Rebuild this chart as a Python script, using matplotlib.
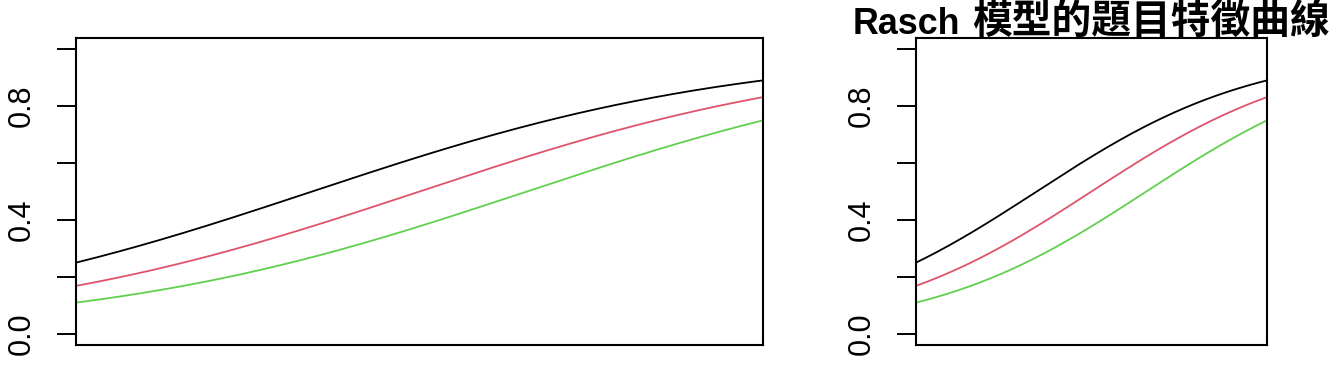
import numpy as np
import matplotlib
matplotlib.use("Agg")
import matplotlib.pyplot as plt

# Rasch item difficulties and ability range
item_difficulty = [-0.5, 0.0, 0.5]
item_colors = ["#000000", "#DF536B", "#61D04F"]
theta_range = [-1.6, 1.6]
ytick_values = [0.0, 0.2, 0.4, 0.6, 0.8, 1.0]
ytick_labels = ["0.0", "", "0.4", "", "0.8", ""]
title_latin = "Rasch"
title_cjk = "模型的題目特徵曲線"

W, H = 1344, 384
fig = plt.figure(figsize=(W / 100, H / 100), dpi=100)

def add_panel(x0, x1, y0, y1):
    return fig.add_axes([x0 / W, 1 - y1 / H, (x1 - x0) / W, (y1 - y0) / H])

ax1 = add_panel(76, 763, 38, 345)
ax2 = add_panel(916, 1267, 38, 345)

theta = np.linspace(theta_range[0], theta_range[1], 400)
for ax in (ax1, ax2):
    for b, c in zip(item_difficulty, item_colors):
        p = 1.0 / (1.0 + np.exp(-(theta - b)))
        ax.plot(theta, p, color=c, lw=1.3, solid_capstyle="butt")
    ax.set_xlim(theta_range)
    ax.set_ylim(-0.04, 1.04)
    ax.set_xticks([])
    ax.set_yticks(ytick_values)
    ax.set_yticklabels(ytick_labels, rotation=90, va="center",
                       family=["Liberation Sans", "DejaVu Sans"], fontsize=22)
    ax.tick_params(axis="y", length=14, width=1.4, pad=14)
    for s in ax.spines.values():
        s.set_linewidth(1.5)

# Title centred over the right panel, Latin and CJK parts sized separately
fig.canvas.draw()
renderer = fig.canvas.get_renderer()
t1 = fig.text(0, 0, title_latin, fontsize=25.8, fontweight="bold",
              family=["Liberation Sans", "DejaVu Sans"], va="baseline", ha="left")
t2 = fig.text(0, 0, title_cjk, fontsize=28.6, fontweight="bold",
              family=["Noto Sans CJK TC", "DejaVu Sans"], va="baseline", ha="left")
w1 = t1.get_window_extent(renderer).width
w2 = t2.get_window_extent(renderer).width
gap = 12
total = w1 + gap + w2
x_start = (916 + 1267) / 2 - total / 2
t1.set_position((x_start / W, (H - 33.5) / H))
t2.set_position(((x_start + w1 + gap) / W, (H - 32.5) / H))

fig.savefig("out.png", dpi=100)
